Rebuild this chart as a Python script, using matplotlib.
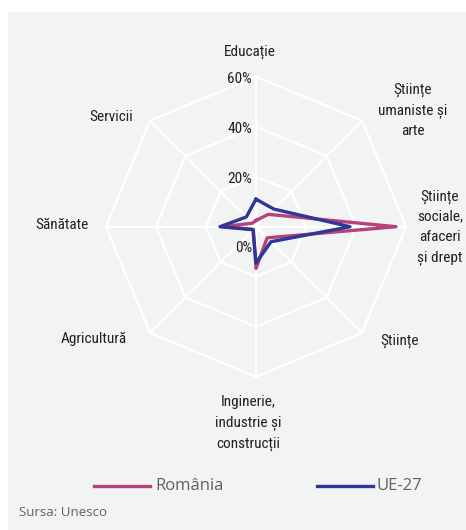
import numpy as np
import matplotlib
matplotlib.use("Agg")
import matplotlib.pyplot as plt
from matplotlib.patches import Rectangle

# categories clockwise from top
categories = ["Educație", "Științe\numaniste și\narte", "Științe\nsociale,\nafaceri\nși drept",
              "Științe", "Inginerie,\nindustrie și\nconstrucții", "Agricultură", "Sănătate", "Servicii"]
romania = [2.5, 7.0, 56.0, 6.3, 16.7, 1.5, 13.5, 2.0]
ue27 = [11.0, 10.0, 37.6, 8.5, 14.5, 1.7, 14.4, 5.5]
rings = [20, 40, 60]
ring_labels = ["20%", "40%", "60%"]

W, H = 466, 530
fig = plt.figure(figsize=(W / 100, H / 100), dpi=100)
fig.patch.set_facecolor("white")
bg = Rectangle((8 / W, 0), 1, 1 - 12 / H, transform=fig.transFigure,
               facecolor="#f2f3f3", edgecolor="none", zorder=-10)
fig.patches.append(bg)

cx, cy, R = 256, 226.7, 150
ax = fig.add_axes([(cx - R) / W, (H - cy - R) / H, 2 * R / W, 2 * R / H], projection="polar")
ax.set_zorder(1)
ax.set_facecolor("none")
ax.set_theta_zero_location("N")
ax.set_theta_direction(-1)
ax.set_ylim(0, 60)
ax.grid(False)
ax.spines["polar"].set_visible(False)
ax.set_xticks([])
ax.set_yticks([])

n = len(categories)
theta = np.linspace(0, 2 * np.pi, n, endpoint=False)
tc = np.append(theta, theta[0])

# octagonal grid
for r in rings:
    ax.plot(tc, [r] * (n + 1), color="white", lw=1.6, zorder=1, clip_on=False)
for t in theta:
    ax.plot([t, t], [0, 60], color="white", lw=1.6, zorder=1, clip_on=False)

ax.plot(tc, romania + romania[:1], color="#b5427a", lw=2.4, zorder=3, clip_on=False)
ax.plot(tc, ue27 + ue27[:1], color="#2e3795", lw=2.4, zorder=4, clip_on=False)

fam = ["Roboto Condensed", "Roboto", "DejaVu Sans"]
tick_font = dict(family=fam, fontsize=11, color="#231f20")
for r, lab in zip(rings, ring_labels):
    ax.annotate(lab, (0, r), xytext=(-3, -2), textcoords="offset points",
                ha="right", va="center", **tick_font)
ax.annotate("0%", (0, 0), xytext=(-3, -15), textcoords="offset points",
            ha="right", va="center", **tick_font)

# category label positions in pixels
label_pos = [(250, 52, "center"), (413, 110, "center"), (440, 227, "center"),
             (400, 341, "center"), (248, 423, "center"), (127, 339, "right"),
             (89, 225, "right"), (133, 117, "right")]
for lab, (x, y, ha) in zip(categories, label_pos):
    fig.text(x / W, 1 - y / H, lab, ha=ha, va="center", linespacing=1.55, **tick_font)

# legend
leg_y = 1 - 486 / H
fig.lines.append(plt.Line2D([94 / W, 150 / W], [leg_y, leg_y], transform=fig.transFigure,
                            color="#b5427a", lw=2.4))
fig.lines.append(plt.Line2D([317 / W, 373 / W], [leg_y, leg_y], transform=fig.transFigure,
                            color="#2e3795", lw=2.4))
leg_font = dict(family=["Open Sans", "DejaVu Sans"], fontsize=12, color="#606062")
fig.text(155 / W, leg_y, "România", ha="left", va="center", **leg_font)
fig.text(377 / W, leg_y, "UE-27", ha="left", va="center", **leg_font)
fig.text(19 / W, 1 - 512 / H, "Sursa: Unesco", ha="left", va="center",
         family=["Open Sans", "DejaVu Sans"], fontsize=9.5, color="#606062")

fig.savefig("out.png", dpi=100, facecolor=fig.get_facecolor())
